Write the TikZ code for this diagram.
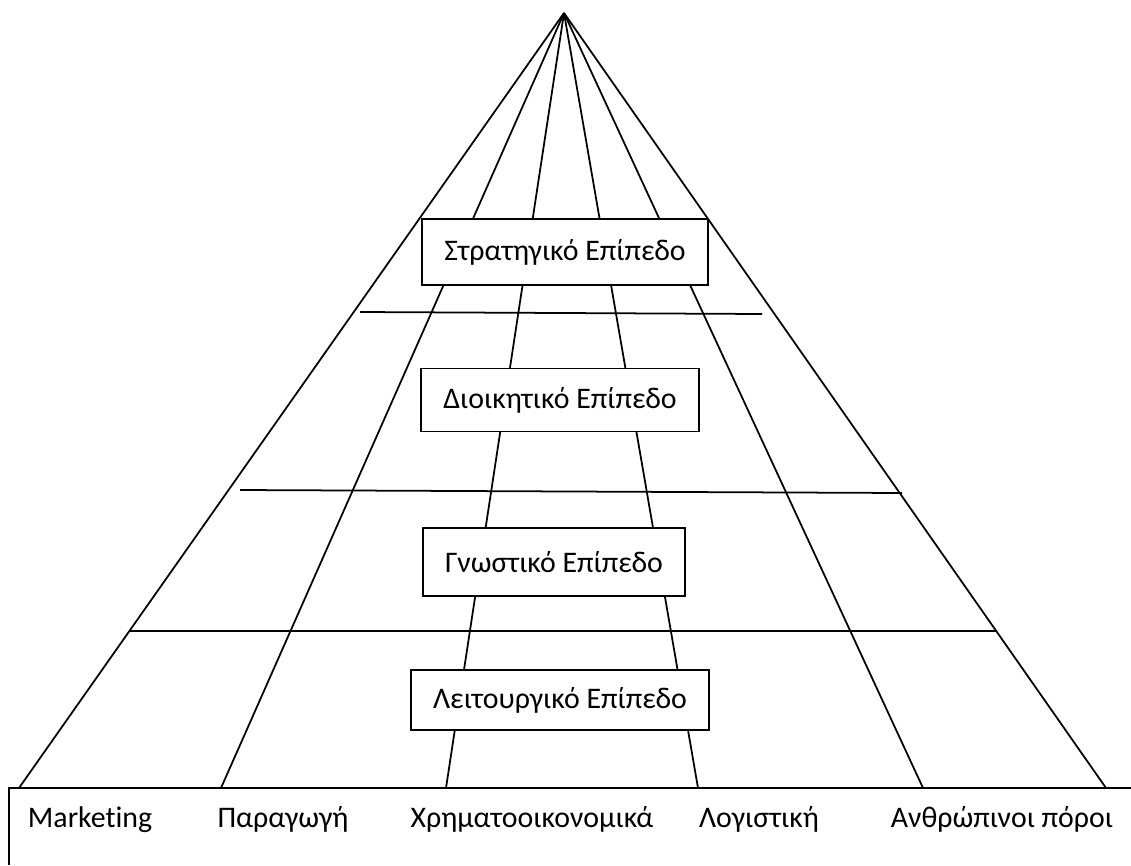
\documentclass[tikz,border=0pt]{standalone}
\usepackage{fontspec}
\setmainfont{Carlito}[Ligatures=NoCommon]
\usepackage{tikz}
\usetikzlibrary{positioning}

\begin{document}
\begin{tikzpicture}[x=0.02cm,y=-0.02cm,line width=1pt,
	level/.style={draw,fill=white,inner xsep=0.44cm,font=\fontsize{17}{20}\selectfont},
	dept/.style={anchor=base,font=\fontsize{17}{20}\selectfont}]
	\useasboundingbox (0,0) rectangle (1131,865);

	\coordinate (apex) at (564,13);
	\coordinate (b_1) at (19,788);
	\coordinate (b_2) at (221,788);
	\coordinate (b_3) at (446,788);
	\coordinate (b_4) at (698,788);
	\coordinate (b_5) at (923,788);
	\coordinate (b_6) at (1106,788);

	\path[draw]
	(apex) edge (b_1)
	       edge (b_2)
	       edge (b_3)
	       edge (b_4)
	       edge (b_5)
	       edge (b_6);

	\coordinate (h_1l) at (360,312);
	\coordinate (h_1r) at (762,314);
	\coordinate (h_2l) at (240,490);
	\coordinate (h_2r) at (902,493);
	\coordinate (h_3l) at (130,631);
	\coordinate (h_3r) at (997,631);
	\draw (h_1l) -- (h_1r);
	\draw (h_2l) -- (h_2r);
	\draw (h_3l) -- (h_3r);

	\node[level,minimum height=1.32cm] (strat) at (565,252) {Στρατηγικό Επίπεδο};
	\node[level,minimum height=1.26cm] (admin) at (560,400) {Διοικητικό Επίπεδο};
	\node[level,minimum height=1.36cm] (know) at (554,562) {Γνωστικό Επίπεδο};
	\node[level,minimum height=1.2cm] (oper) at (560,700) {Λειτουργικό Επίπεδο};

	\coordinate (base_l) at (9,788);
	\coordinate (base_r) at (1131,788);
	\coordinate (base_b) at (9,865);
	\draw[line width=1.4pt] (base_b) -- (base_l) -- (base_r);

	\node[dept] (mkt) at (90,827) {Marketing};
	\node[dept] (prod) at (283,827) {Παραγωγή};
	\node[dept] (fin) at (532,827) {Χρηματοοικονομικά};
	\node[dept] (acc) at (759,827) {Λογιστική};
	\node[dept] (hr) at (1002,827) {Ανθρώπινοι πόροι};
\end{tikzpicture}
\end{document}
